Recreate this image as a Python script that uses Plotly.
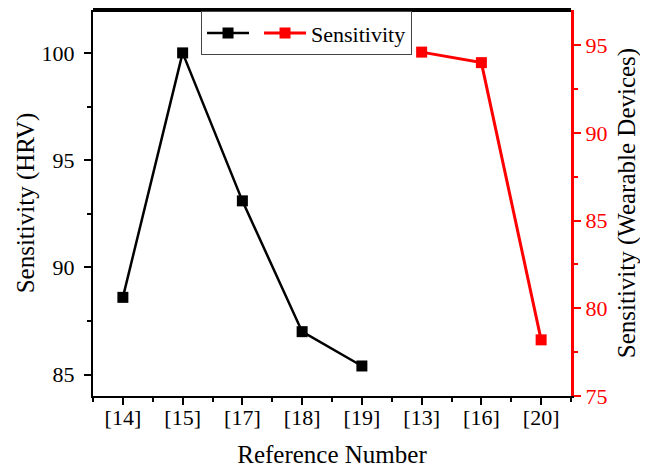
import plotly.graph_objects as go

categories = ["[14]", "[15]", "[17]", "[18]", "[19]", "[13]", "[16]", "[20]"]
hrv_refs = ["[14]", "[15]", "[17]", "[18]", "[19]"]
hrv_values = [88.6, 100.0, 93.1, 87.0, 85.4]
wear_refs = ["[13]", "[16]", "[20]"]
wear_values = [94.6, 94.0, 78.2]

FONT = "Liberation Serif"

hrv_x = [categories.index(c) for c in hrv_refs]
wear_x = [categories.index(c) for c in wear_refs]

fig = go.Figure()
fig.add_trace(go.Scatter(
    x=hrv_x, y=hrv_values, name="", mode="lines+markers",
    line=dict(color="black", width=2.5),
    marker=dict(symbol="square", size=11, color="black"),
    yaxis="y",
))
fig.add_trace(go.Scatter(
    x=wear_x, y=wear_values, name="Sensitivity", mode="lines+markers",
    line=dict(color="#ff0000", width=3),
    marker=dict(symbol="square", size=11, color="#ff0000"),
    yaxis="y2",
))

fig.update_layout(
    width=640, height=462,
    margin=dict(l=85, r=77, t=2, b=74, autoexpand=False),
    paper_bgcolor="white", plot_bgcolor="white",
    font=dict(family=FONT, size=22, color="black"),
    showlegend=True,
    legend=dict(
        orientation="h", x=0.226, y=0.997, xanchor="left", yanchor="top",
        bordercolor="#444", borderwidth=1, bgcolor="rgba(255,255,255,0)",
        font=dict(family=FONT, size=22, color="black"),
        itemwidth=42, tracegroupgap=0,
    ),
    xaxis=dict(
        range=[-0.5, 7.5], automargin=False,
        tickmode="array", tickvals=list(range(len(categories))), ticktext=categories,
        showgrid=False, zeroline=False,
        showline=True, linecolor="black", linewidth=2,
        ticks="outside", ticklen=7, tickwidth=2, tickcolor="black",
        minor=dict(tickmode="array", tickvals=[i + 0.5 for i in range(-1, len(categories))],
                   ticks="outside", ticklen=4, tickwidth=2, tickcolor="black"),
        tickfont=dict(family=FONT, size=22, color="black"),
        ticklabelstandoff=-6,
        title=dict(text="Reference Number", font=dict(family=FONT, size=25, color="black"), standoff=16),
    ),
    yaxis=dict(
        range=[84, 102], automargin=False,
        tickmode="array", tickvals=[85, 90, 95, 100],
        showgrid=False, zeroline=False,
        showline=True, linecolor="black", linewidth=2,
        ticks="outside", ticklen=7, tickwidth=2, tickcolor="black",
        minor=dict(tickmode="array", tickvals=[87.5, 92.5, 97.5],
                   ticks="outside", ticklen=4, tickwidth=2, tickcolor="black"),
        tickfont=dict(family=FONT, size=22, color="black"),
        ticklabelstandoff=5,
        title=dict(text="Sensitivity (HRV)", font=dict(family=FONT, size=25, color="black"), standoff=0),
    ),
    yaxis2=dict(
        range=[75, 97], overlaying="y", side="right", automargin=False,
        tickmode="array", tickvals=[75, 80, 85, 90, 95],
        showgrid=False, zeroline=False,
        showline=True, linecolor="#ff0000", linewidth=3,
        ticks="outside", ticklen=7, tickwidth=2, tickcolor="#ff0000",
        minor=dict(tickmode="array", tickvals=[77.5, 82.5, 87.5, 92.5],
                   ticks="outside", ticklen=4, tickwidth=2, tickcolor="#ff0000"),
        tickfont=dict(family=FONT, size=22, color="#ff0000"),
        title=dict(text="Sensitivity (Wearable Devices)", font=dict(family=FONT, size=25, color="black"), standoff=12),
    ),
    shapes=[dict(type="line", xref="paper", yref="paper", x0=0, x1=1, y0=1, y1=1,
                 line=dict(color="black", width=4), layer="above")],
)

fig.write_html("out.html")
